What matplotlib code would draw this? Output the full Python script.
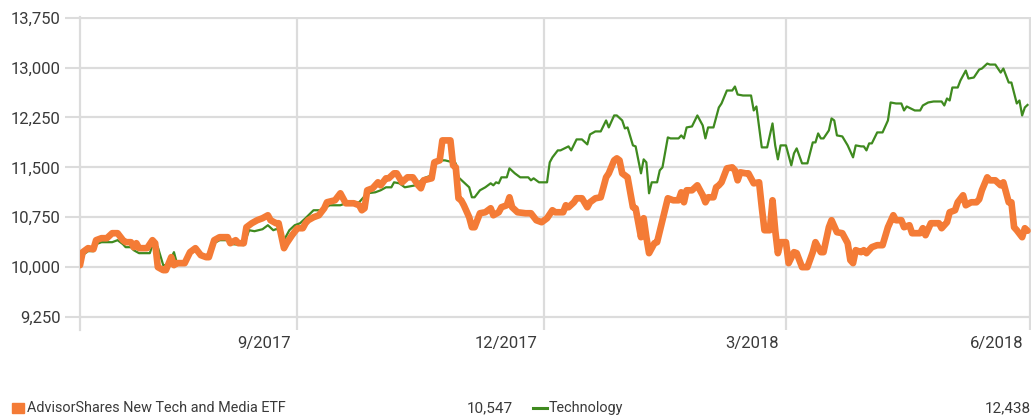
import pandas as pd
import matplotlib
matplotlib.use("Agg")
import matplotlib.pyplot as plt
import matplotlib.transforms as mtransforms
from matplotlib.patches import Rectangle
from matplotlib.lines import Line2D

plt.rcParams['font.family'] = ['Roboto', 'DejaVu Sans']

# growth of 10,000 - days counted from the first date of the chart
start = pd.Timestamp('2017-07-11')

etf_days = [0, 1, 3, 5, 6, 8, 10, 12, 14, 16, 17, 19, 20, 21, 22, 25, 27, 28, 29, 31,
            32, 34, 35, 36, 39, 41, 43, 45, 47, 48, 50, 52, 55, 56, 58, 59, 61, 62, 64, 66,
            68, 70, 71, 73, 74, 76, 77, 79, 81, 83, 84, 85, 87, 89, 91, 92, 95, 97, 98, 99,
            102, 104, 105, 106, 107, 109, 111, 112, 114, 115, 117, 118, 120, 122, 124, 126, 127, 128, 131, 132,
            134, 135, 138, 139, 140, 141, 142, 143, 145, 146, 147, 149, 151, 153, 154, 156, 157, 159, 160, 161,
            163, 166, 168, 170, 172, 174, 176, 177, 180, 181, 182, 184, 185, 187, 189, 190, 192, 194, 196, 197,
            199, 200, 201, 202, 204, 206, 207, 209, 210, 211, 212, 214, 215, 217, 219, 221, 223, 224, 225, 226,
            228, 230, 232, 233, 234, 236, 237, 238, 239, 241, 243, 244, 245, 246, 248, 249, 250, 251, 253, 254,
            255, 257, 258, 259, 260, 261, 263, 264, 266, 267, 269, 271, 273, 274, 276, 277, 279, 280, 282, 284,
            286, 287, 288, 289, 291, 292, 293, 295, 297, 299, 301, 303, 304, 306, 307, 309, 310, 313, 314, 315,
            317, 320, 321, 323, 324, 326, 327, 329, 330, 332, 334, 335, 336, 338, 339, 341, 343, 344, 346, 347,
            348, 349, 351, 352, 353]
etf_values = [10030, 10225, 10285, 10270, 10405, 10435, 10435, 10510, 10510, 10405, 10375, 10375, 10300, 10360, 10285, 10285, 10405, 10360, 10000, 9955,
              9955, 10150, 10030, 10060, 10060, 10225, 10285, 10180, 10150, 10150, 10405, 10450, 10450, 10360, 10405, 10360, 10360, 10600, 10660, 10705,
              10735, 10780, 10705, 10660, 10660, 10285, 10360, 10480, 10585, 10585, 10660, 10705, 10750, 10780, 10885, 10975, 11005, 11110, 11035, 10960,
              10960, 10930, 10855, 10885, 11155, 11185, 11275, 11230, 11335, 11335, 11410, 11410, 11275, 11350, 11350, 11230, 11185, 11305, 11335, 11575,
              11605, 11905, 11905, 11530, 11500, 11035, 11005, 10930, 10750, 10600, 10600, 10810, 10825, 10885, 10780, 10825, 10900, 10930, 11050, 10900,
              10825, 10810, 10810, 10705, 10675, 10735, 10855, 10825, 10825, 10930, 10900, 10975, 11035, 11035, 10900, 10975, 11035, 11050, 11350, 11410,
              11605, 11635, 11605, 11410, 11350, 10900, 10885, 10450, 10735, 10450, 10210, 10360, 10375, 10705, 11035, 11005, 11005, 11125, 10975, 11155,
              11155, 11230, 11080, 10975, 11050, 11050, 11200, 11230, 11275, 11485, 11500, 11455, 11305, 11425, 11410, 11410, 11335, 11260, 11275, 10900,
              10555, 10555, 11005, 10555, 10210, 10375, 10375, 10060, 10225, 10210, 10000, 10000, 10225, 10375, 10225, 10225, 10600, 10705, 10525, 10510,
              10360, 10105, 10060, 10255, 10225, 10255, 10210, 10300, 10330, 10330, 10600, 10780, 10705, 10705, 10600, 10630, 10510, 10510, 10585, 10480,
              10660, 10660, 10585, 10675, 10825, 10855, 10975, 11080, 10930, 10975, 10975, 11020, 11155, 11350, 11305, 11305, 11230, 11275, 10975, 10975,
              10600, 10555, 10450, 10585, 10547]

tech_days = [0, 1, 3, 5, 6, 8, 12, 14, 16, 17, 19, 20, 22, 26, 27, 29, 31, 32, 34, 35,
             36, 39, 41, 43, 45, 47, 48, 50, 52, 55, 57, 61, 63, 65, 68, 70, 72, 73, 75, 76,
             78, 80, 82, 84, 87, 90, 93, 97, 99, 104, 107, 110, 112, 114, 116, 117, 119, 121, 125, 128,
             131, 132, 134, 136, 139, 140, 141, 143, 145, 146, 147, 149, 151, 153, 154, 155, 156, 157, 159, 160,
             162, 164, 167, 168, 169, 171, 174, 175, 176, 178, 179, 182, 183, 185, 187, 189, 190, 192, 194, 196,
             197, 199, 200, 202, 203, 204, 206, 207, 209, 210, 211, 212, 213, 215, 216, 217, 219, 220, 223, 224,
             225, 226, 228, 230, 232, 233, 234, 236, 237, 238, 239, 241, 243, 244, 245, 247, 250, 251, 252, 254,
             256, 258, 259, 260, 261, 263, 265, 266, 267, 269, 271, 273, 274, 275, 276, 277, 279, 280, 281, 282,
             284, 286, 288, 289, 291, 292, 293, 294, 295, 297, 299, 301, 302, 304, 306, 307, 308, 311, 313, 314,
             316, 318, 321, 322, 323, 324, 325, 327, 328, 330, 331, 333, 335, 336, 338, 339, 341, 343, 344, 346,
             347, 349, 350, 351, 352, 353]
tech_values = [10030, 10180, 10240, 10240, 10345, 10375, 10375, 10405, 10345, 10300, 10300, 10255, 10210, 10210, 10330, 10300, 10030, 10030, 10135, 10225,
               10075, 10075, 10195, 10255, 10165, 10150, 10150, 10360, 10405, 10405, 10345, 10330, 10555, 10540, 10570, 10630, 10555, 10570, 10570, 10405,
               10555, 10630, 10660, 10735, 10855, 10855, 10930, 10930, 10960, 10975, 11110, 11125, 11155, 11200, 11200, 11275, 11260, 11200, 11230, 11335,
               11380, 11575, 11605, 11605, 11575, 11560, 11350, 11275, 11200, 11050, 11050, 11155, 11200, 11260, 11230, 11275, 11260, 11350, 11350, 11485,
               11410, 11350, 11350, 11305, 11335, 11275, 11275, 11575, 11650, 11755, 11755, 11815, 11755, 11920, 11920, 11845, 11995, 12040, 12040, 12205,
               12100, 12280, 12280, 12205, 12085, 12100, 11830, 11815, 11410, 11620, 11575, 11110, 11275, 11275, 11455, 11500, 11950, 11935, 11935, 11980,
               11935, 12100, 12115, 12280, 12130, 11935, 12100, 12100, 12250, 12400, 12460, 12655, 12655, 12715, 12595, 12580, 12580, 12355, 12415, 11800,
               11800, 12160, 11830, 11620, 11830, 11830, 11530, 11710, 11785, 11560, 11560, 11875, 11875, 12010, 11935, 11935, 12055, 12235, 12205, 11980,
               11965, 11830, 11650, 11830, 11815, 11815, 11755, 11860, 11860, 12025, 12025, 12205, 12475, 12460, 12460, 12355, 12415, 12355, 12355, 12430,
               12475, 12490, 12490, 12430, 12535, 12505, 12700, 12700, 12805, 12955, 12835, 12850, 12970, 12985, 13060, 13045, 13045, 12925, 12985, 12775,
               12775, 12460, 12505, 12280, 12400, 12438]

names = ['AdvisorShares New Tech and Media ETF', 'Technology']
end_values = [10547, 12438]
yticks = [9250, 10000, 10750, 11500, 12250, 13000, 13750]
xtick_dates = ['2017-09-30', '2017-12-31', '2018-03-31', '2018-06-30']
xtick_labels = ['9/2017', '12/2017', '3/2018', '6/2018']

orange = '#f47b36'
green = '#3f8a1f'
grid = '#dcdcdc'
txt = '#3a3a3a'

etf_dates = start + pd.to_timedelta(etf_days, unit='D')
tech_dates = start + pd.to_timedelta(tech_days, unit='D')

fig = plt.figure(figsize=(10.35, 4.2), dpi=100)
ax = fig.add_axes([80/1035, 1 - 330/420, 951/1035, 313/420])

ax.plot(tech_dates, tech_values, color=green, lw=1.6, zorder=3)
ax.plot(etf_dates, etf_values, color=orange, lw=4.8, solid_joinstyle='round',
        solid_capstyle='round', zorder=4)

ax.set_xlim(start, start + pd.Timedelta(days=354.3))
ax.set_ylim(9055, 13760)

ax.set_yticks(yticks)
ax.set_yticklabels(['{:,}'.format(v) for v in yticks])
ax.tick_params(axis='y', length=11, width=1.5, color=grid, pad=3,
               labelsize=12, labelcolor=txt)
ax.set_xticks(pd.to_datetime(xtick_dates))
ax.set_xticklabels(xtick_labels)
ax.tick_params(axis='x', length=0, pad=4, labelsize=12, labelcolor=txt)
shift = mtransforms.ScaledTranslation(-7/100, 0, fig.dpi_scale_trans)
for lab in ax.get_xticklabels():
    lab.set_horizontalalignment('right')
    lab.set_transform(lab.get_transform() + shift)

ax.grid(True, color=grid, lw=1.6)
ax.set_axisbelow(True)
for s in ['top', 'right', 'bottom']:
    ax.spines[s].set_visible(False)
ax.spines['left'].set_color(grid)
ax.spines['left'].set_linewidth(1.6)

# legend row
ly = 1 - 408/420
fig.add_artist(Rectangle((12/1035, ly - 5/420), 12/1035, 10/420, color=orange,
                         transform=fig.transFigure))
fig.text(27/1035, ly, names[0], ha='left', va='center', fontsize=10.4, color=txt)
fig.text(513/1035, ly, '{:,}'.format(end_values[0]), ha='right', va='center',
         fontsize=11, color=txt)
fig.add_artist(Line2D([533/1035, 547/1035], [ly, ly], color=green, lw=2.2,
                      transform=fig.transFigure))
fig.text(549/1035, ly, names[1], ha='left', va='center', fontsize=10.4, color=txt)
fig.text(1031/1035, ly, '{:,}'.format(end_values[1]), ha='right', va='center',
         fontsize=11, color=txt)

fig.savefig('out.png', dpi=100)
